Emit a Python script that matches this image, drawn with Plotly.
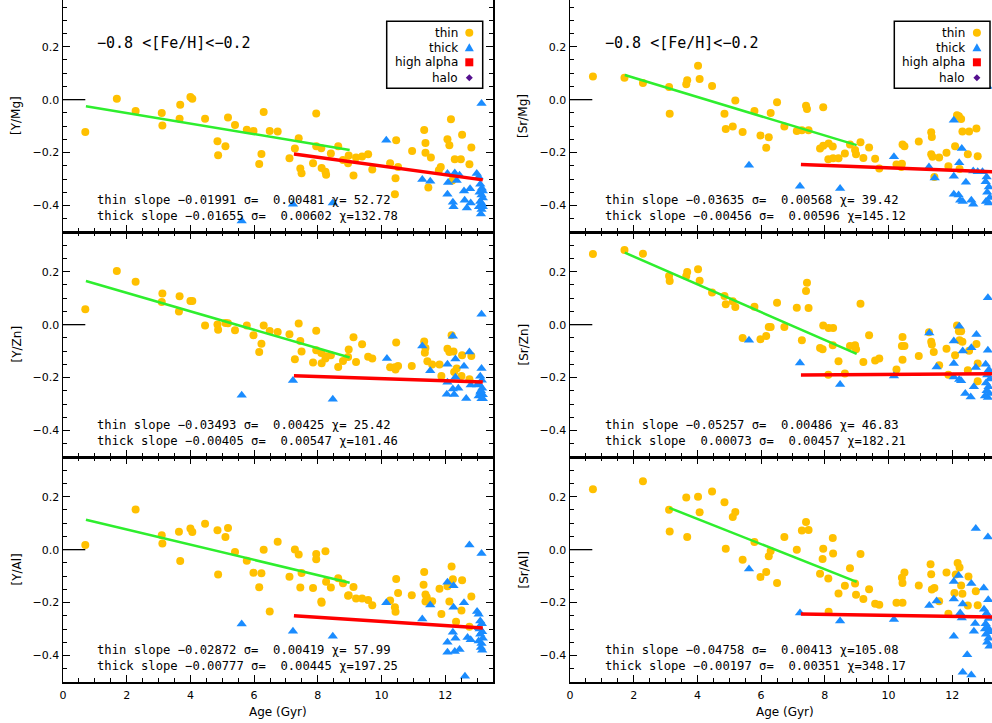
import plotly.graph_objects as go

# ---------------- data ----------------
YMg_thin_age = [0.70,1.69,2.28,3.10,3.12,3.66,3.68,4.00,4.06,4.46,4.85,4.87,5.10,5.18,5.40,5.77,5.98,6.16,6.23,6.30,6.49,6.74,7.11,7.28,7.40,7.45,7.49,7.85,7.95,7.95,8.11,8.12,8.24,8.26,8.41,8.64,8.79,8.95,8.97,9.12,9.20,9.39,9.58,9.71,10.27,10.46,10.44,10.42,10.52,10.96,11.34,11.38,11.38,11.47,11.55,11.80,11.86,12.07,12.13,12.18,12.22,12.30,12.49,12.53,12.76,12.82]
YMg_thin_val = [-0.122,0.003,-0.043,-0.050,-0.098,-0.072,-0.019,0.010,0.003,-0.072,-0.157,-0.210,-0.176,-0.067,-0.096,-0.114,-0.118,-0.243,-0.205,-0.047,-0.118,-0.120,-0.221,-0.185,-0.146,-0.260,-0.278,-0.240,-0.052,-0.176,-0.184,-0.258,-0.272,-0.284,-0.203,-0.176,-0.228,-0.240,-0.211,-0.287,-0.219,-0.215,-0.206,-0.264,-0.240,-0.153,-0.297,-0.357,-0.254,-0.194,-0.115,-0.164,-0.201,-0.332,-0.219,-0.267,-0.254,-0.150,-0.172,-0.074,-0.305,-0.225,-0.225,-0.133,-0.244,-0.181]
YMg_thick_age = [5.61,7.22,8.47,10.15,11.28,11.53,12.07,12.09,12.07,12.24,12.26,12.30,12.36,12.45,12.59,12.61,12.68,12.78,12.80,12.99,13.05,13.14,13.10,13.15,13.08,13.14,13.18,13.10,13.16,13.06,13.14,13.18,13.12,13.18]
YMg_thick_val = [-0.458,-0.395,-0.390,-0.153,-0.302,-0.308,-0.279,-0.313,-0.357,-0.388,-0.405,-0.277,-0.305,-0.286,-0.345,-0.380,-0.409,-0.337,-0.390,-0.279,-0.292,-0.015,-0.320,-0.335,-0.350,-0.360,-0.372,-0.385,-0.395,-0.405,-0.415,-0.405,-0.432,-0.345]

SrMg_thin_age = [0.72,1.71,2.29,3.11,3.13,3.65,3.68,4.02,4.07,4.46,4.85,4.89,5.11,5.19,5.42,5.79,5.98,6.16,6.24,6.30,6.50,6.73,7.12,7.28,7.41,7.44,7.49,7.85,7.95,7.95,8.12,8.11,8.25,8.26,8.43,8.63,8.79,8.95,8.98,9.12,9.21,9.39,9.58,9.71,10.25,10.44,10.42,10.40,10.50,10.95,11.34,11.36,11.34,11.38,11.44,11.59,11.82,11.88,12.09,12.15,12.21,12.28,12.23,12.32,12.49,12.53,12.76,12.80]
SrMg_thin_val = [0.087,0.083,0.063,0.048,-0.053,0.058,0.073,0.128,0.078,0.052,-0.053,-0.111,-0.101,-0.003,-0.122,-0.043,-0.135,-0.182,-0.142,-0.050,-0.010,-0.101,-0.118,-0.116,-0.023,-0.035,-0.116,-0.185,-0.029,-0.174,-0.166,-0.225,-0.177,-0.221,-0.221,-0.203,-0.169,-0.190,-0.206,-0.161,-0.220,-0.181,-0.223,-0.260,-0.245,-0.169,-0.242,-0.254,-0.176,-0.158,-0.123,-0.141,-0.206,-0.216,-0.292,-0.219,-0.201,-0.252,-0.176,-0.059,-0.063,-0.073,-0.262,-0.120,-0.206,-0.120,-0.109,-0.214]
SrMg_thick_age = [5.62,7.22,8.48,10.17,11.27,11.45,12.05,12.30,12.22,12.05,12.43,12.66,12.80,12.95,13.08,13.05,13.15,13.10,13.18,13.06,13.15,12.05,12.20,12.25,12.33,12.60,12.66,13.11]
SrMg_thick_val = [-0.248,-0.327,-0.336,-0.216,-0.254,-0.296,-0.078,-0.185,-0.238,-0.289,-0.312,-0.270,-0.272,-0.272,-0.292,-0.310,-0.330,-0.350,-0.370,-0.385,-0.390,-0.357,-0.360,-0.380,-0.385,-0.380,-0.395,0.050]

YZn_thin_age = [0.70,1.69,2.28,3.12,3.10,3.66,3.64,4.00,4.06,4.46,4.85,4.87,5.10,5.18,5.40,5.77,5.98,6.16,6.23,6.30,6.49,6.74,7.11,7.28,7.40,7.45,7.49,7.85,7.95,7.95,8.11,8.12,8.24,8.26,8.41,8.64,8.79,8.95,8.97,9.12,9.20,9.39,9.58,9.71,10.27,10.46,10.44,10.42,10.52,10.95,11.34,11.36,11.38,11.44,11.59,11.82,11.88,12.07,12.13,12.20,12.26,12.28,12.36,12.51,12.53,12.76,12.82]
YZn_thin_val = [0.058,0.203,0.162,0.118,0.086,0.107,0.050,0.089,0.089,-0.003,0.001,-0.019,0.006,0.005,-0.021,-0.003,-0.040,-0.103,-0.072,-0.003,-0.024,-0.028,-0.036,-0.131,0.004,-0.062,-0.101,-0.143,-0.023,-0.097,-0.107,-0.146,-0.128,-0.119,-0.116,-0.160,-0.137,-0.122,-0.094,-0.048,-0.141,-0.074,-0.121,-0.128,-0.161,-0.067,-0.169,-0.161,-0.156,-0.156,-0.064,-0.106,-0.088,-0.138,-0.151,-0.151,-0.194,-0.091,-0.103,-0.040,-0.101,-0.179,-0.166,-0.194,-0.116,-0.206,-0.118]
YZn_thick_age = [5.61,7.22,8.47,10.17,11.28,11.53,12.07,12.24,12.32,12.59,12.76,12.07,12.05,12.24,12.28,12.41,12.66,12.80,13.00,13.14,13.14,12.32,13.10,13.15,13.06,13.16,13.10,13.18,13.05,13.14,13.18,13.12]
YZn_thick_val = [-0.267,-0.211,-0.282,-0.128,-0.081,-0.174,-0.150,-0.044,-0.130,-0.157,-0.103,-0.218,-0.263,-0.243,-0.264,-0.240,-0.279,-0.228,-0.228,-0.166,0.039,-0.199,-0.195,-0.210,-0.225,-0.240,-0.255,-0.265,-0.270,-0.280,-0.280,-0.250]

SrZn_thin_age = [0.72,1.71,2.29,3.11,3.13,3.65,3.68,4.02,4.07,4.46,4.85,4.89,5.11,5.19,5.42,5.79,5.98,6.16,6.24,6.30,6.50,6.73,7.12,7.28,7.41,7.44,7.49,7.85,7.95,7.93,8.12,8.11,8.25,8.26,8.43,8.63,8.79,8.95,8.98,9.12,9.21,9.39,9.58,9.71,10.25,10.44,10.42,10.44,10.50,10.95,11.34,11.36,11.42,11.27,11.59,11.82,11.88,12.09,12.15,12.21,12.28,12.23,12.32,12.49,12.53,12.76,12.80,12.80]
SrZn_thin_val = [0.267,0.282,0.268,0.184,0.165,0.184,0.199,0.209,0.166,0.121,0.108,0.077,0.088,0.067,-0.050,0.068,-0.055,-0.043,-0.009,-0.009,0.083,-0.009,0.064,-0.059,0.127,0.158,0.063,-0.088,-0.003,-0.093,-0.013,-0.189,-0.078,-0.013,-0.138,-0.185,-0.081,-0.078,-0.093,0.079,-0.141,-0.040,-0.135,-0.128,-0.169,-0.047,-0.081,-0.133,-0.081,-0.118,-0.065,-0.075,-0.103,-0.029,-0.153,-0.091,-0.189,-0.116,-0.003,-0.025,-0.025,-0.059,-0.065,-0.172,-0.099,-0.073,-0.147,-0.214]
SrZn_thick_age = [5.62,7.22,8.48,10.17,11.28,11.51,12.05,12.22,12.33,12.60,12.76,13.12,13.12,12.05,12.74,12.05,12.22,12.28,12.68,12.41,12.58,13.05,13.15,13.10,13.18,13.06,13.14,13.08,13.17,13.12,13.03]
SrZn_thick_val = [-0.059,-0.145,-0.226,-0.194,-0.032,-0.160,-0.062,-0.006,-0.100,-0.087,-0.037,0.102,-0.097,-0.147,-0.162,-0.198,-0.207,-0.212,-0.235,-0.260,-0.273,-0.150,-0.170,-0.190,-0.205,-0.220,-0.235,-0.250,-0.260,-0.275,-0.270]

YAl_thin_age = [0.70,2.28,3.10,3.12,3.64,3.68,4.00,4.06,4.46,4.85,4.87,5.10,5.18,5.40,5.77,5.98,6.16,6.23,6.30,6.49,6.74,7.11,7.28,7.40,7.45,7.49,7.85,7.95,7.95,8.11,8.12,8.24,8.26,8.41,8.64,8.79,8.95,8.97,9.12,9.20,9.39,9.58,9.71,10.27,10.46,10.44,10.42,10.52,10.95,11.34,11.32,11.38,11.38,11.42,11.59,11.82,11.88,12.07,12.13,12.20,12.24,12.34,12.51,12.53,12.76,12.82]
YAl_thin_val = [0.018,0.152,0.054,0.023,0.068,-0.043,0.080,0.067,0.098,0.073,-0.094,0.048,0.082,-0.009,-0.042,-0.087,-0.142,-0.089,0.000,-0.234,0.030,-0.102,0.001,-0.018,-0.143,-0.088,-0.145,-0.016,-0.036,-0.196,-0.201,-0.006,-0.121,-0.143,-0.108,-0.127,-0.174,-0.172,-0.141,-0.185,-0.185,-0.190,-0.210,-0.192,-0.111,-0.235,-0.218,-0.164,-0.172,-0.084,-0.133,-0.169,-0.196,-0.180,-0.195,-0.148,-0.243,-0.138,-0.196,-0.064,-0.112,-0.272,-0.230,-0.116,-0.291,-0.177]
YAl_thick_age = [5.61,7.22,8.47,10.15,11.28,11.53,12.07,12.26,12.59,12.26,12.07,12.07,12.24,12.32,12.30,12.45,12.70,12.80,12.76,13.14,13.00,13.05,12.62,13.10,13.15,13.06,13.16,13.10,13.18,13.05,13.14,13.12,13.16,13.08]
YAl_thick_val = [-0.281,-0.308,-0.327,-0.201,-0.262,-0.209,-0.123,-0.136,-0.201,-0.218,-0.350,-0.388,-0.312,-0.335,-0.385,-0.377,-0.332,-0.340,0.018,-0.015,-0.234,-0.244,-0.478,-0.270,-0.280,-0.295,-0.310,-0.320,-0.335,-0.345,-0.355,-0.370,-0.380,-0.300]

SrAl_thin_age = [0.72,2.29,3.11,3.13,3.65,3.68,4.02,4.07,4.46,4.85,4.89,5.11,5.19,5.42,5.79,5.98,6.16,6.24,6.30,6.50,6.73,7.12,7.28,7.41,7.49,7.85,7.95,7.93,8.12,8.11,8.25,8.26,8.43,8.63,8.79,8.95,8.98,9.12,9.21,9.39,9.58,9.71,10.25,10.44,10.42,10.44,10.50,10.95,11.32,11.34,11.36,11.44,11.59,11.82,11.88,12.07,12.11,12.17,12.23,12.28,12.32,12.49,12.51,12.74,12.80]
SrAl_thin_val = [0.228,0.258,0.151,0.069,0.197,0.048,0.200,0.141,0.220,0.179,0.003,0.123,0.142,-0.038,0.029,-0.103,-0.084,-0.025,-0.005,-0.126,0.048,0.000,0.072,0.104,0.074,-0.091,0.003,-0.035,-0.235,-0.109,0.044,-0.015,-0.166,-0.136,-0.070,-0.128,-0.170,-0.016,-0.186,-0.150,-0.204,-0.208,-0.201,-0.201,-0.106,-0.126,-0.086,-0.135,-0.055,-0.093,-0.151,-0.145,-0.195,-0.086,-0.242,-0.164,-0.094,-0.050,-0.067,-0.135,-0.167,-0.211,-0.101,-0.157,-0.210]
SrAl_thick_age = [5.62,7.22,8.48,10.17,11.28,11.51,12.05,12.20,12.60,12.99,13.13,12.05,12.33,12.25,12.72,12.68,12.05,12.47,12.33,12.60,12.74,13.12,13.00,12.30,13.08,13.15,13.05,13.12,13.18,13.06,13.14,13.10,13.17,13.03]
SrAl_thick_val = [-0.073,-0.239,-0.270,-0.264,-0.211,-0.194,-0.120,-0.098,-0.128,-0.145,-0.189,-0.186,-0.205,-0.239,-0.279,-0.308,-0.327,-0.397,-0.463,-0.474,0.080,0.048,-0.225,-0.258,-0.240,-0.260,-0.280,-0.295,-0.310,-0.320,-0.335,-0.350,-0.365,-0.300]

# panel order: Y/Mg, Sr/Mg, Y/Zn, Sr/Zn, Y/Al, Sr/Al
ratio_labels = ["[Y/Mg]", "[Sr/Mg]", "[Y/Zn]", "[Sr/Zn]", "[Y/Al]", "[Sr/Al]"]
thin_slope = [-0.01991, -0.03635, -0.03493, -0.05257, -0.02872, -0.04758]
thin_sigma = [0.00481, 0.00568, 0.00425, 0.00486, 0.00419, 0.00413]
thin_chi = [52.72, 39.42, 25.42, 46.83, 57.99, 105.08]
thick_slope = [-0.01655, -0.00456, -0.00405, 0.00073, -0.00777, -0.00197]
thick_sigma = [0.00602, 0.00596, 0.00547, 0.00457, 0.00445, 0.00351]
thick_chi = [132.78, 145.12, 101.46, 182.21, 197.25, 348.17]
thin_fit_start = [0.72, 1.72, 0.72, 1.72, 0.72, 3.12]
thin_fit_end = [9.0, 9.0, 9.0, 9.0, 9.0, 9.0]
thin_fit_y0 = [-0.025, 0.093, 0.165, 0.272, 0.113, 0.158]
thick_fit_start = [7.25, 7.25, 7.25, 7.25, 7.25, 7.25]
thick_fit_end = [13.18, 13.25, 13.18, 13.25, 13.18, 13.25]
thick_fit_y0 = [-0.205, -0.245, -0.193, -0.190, -0.250, -0.243]
zero_mark_age = [0.0, 0.7]
zero_mark_val = [0.0, 0.0]
legend_labels = ["thin", "thick", "high alpha", "halo"]
title_text = "\u22120.8 <[Fe/H]<\u22120.2"
xlabel = "Age (Gyr)"

thin_sets = [(YMg_thin_age, YMg_thin_val), (SrMg_thin_age, SrMg_thin_val), (YZn_thin_age, YZn_thin_val),
             (SrZn_thin_age, SrZn_thin_val), (YAl_thin_age, YAl_thin_val), (SrAl_thin_age, SrAl_thin_val)]
thick_sets = [(YMg_thick_age, YMg_thick_val), (SrMg_thick_age, SrMg_thick_val), (YZn_thick_age, YZn_thick_val),
              (SrZn_thick_age, SrZn_thick_val), (YAl_thick_age, YAl_thick_val), (SrAl_thick_age, SrAl_thick_val)]
for a, b in thin_sets + thick_sets:
    assert len(a) == len(b), (len(a), len(b))

# ---------------- styling / layout ----------------
W, H = 992, 723
ML, MR, MT, MB = 63, 0, 0, 41
PW, PH = W - ML - MR, H - MT - MB

def pxx(x):
    return (x - ML) / PW

def pxy(y):
    return (H - MB - y) / PH

C_THIN = "#FFC000"
C_THICK = "#1A8CFF"
C_GREEN = "#2EEE2E"
C_RED = "#FF0000"
C_HALO = "#55108F"
FONT = "DejaVu Sans"
MONO = "DejaVu Sans Mono"

col_px = [(63, 493), (570, 992)]
row_px = [(0, 232), (232, 457), (457, 682)]
PXU_X = 430 / 13.5
PXU_Y = 225 / 0.85

fig = go.Figure()
annotations = []
shapes = []

def fmt(kind, s, sg, ch):
    t = f"{kind} slope {s:8.5f} \u03c3={sg:9.5f} \u03c7={ch:6.2f}"
    return t.replace("-", "\u2212").replace(" ", "\u00a0")

for i in range(6):
    r, c = divmod(i, 2)
    ax = "" if i == 0 else str(i + 1)
    xa, ya = "x" + ax, "y" + ax
    x0p, x1p = col_px[c]
    y0p, y1p = row_px[r]
    xrange = [0, (x1p - x0p) / PXU_X]
    yrange = [-0.5, -0.5 + (y1p - y0p) / PXU_Y]

    tx, tv = thin_sets[i]
    kx, kv = thick_sets[i]
    fig.add_trace(go.Scatter(x=tx, y=tv, mode="markers", xaxis=xa, yaxis=ya, showlegend=False,
                             marker=dict(symbol="circle", size=8, color=C_THIN, line=dict(width=0))))
    fig.add_trace(go.Scatter(x=kx, y=kv, mode="markers", xaxis=xa, yaxis=ya, showlegend=False,
                             marker=dict(symbol="triangle-up", size=9, color=C_THICK, line=dict(width=0))))
    fig.add_trace(go.Scatter(x=zero_mark_age, y=zero_mark_val, mode="lines", xaxis=xa, yaxis=ya,
                             showlegend=False, line=dict(color="black", width=1.3)))
    gx = [thin_fit_start[i], thin_fit_end[i]]
    gy = [thin_fit_y0[i], thin_fit_y0[i] + thin_slope[i] * (thin_fit_end[i] - thin_fit_start[i])]
    fig.add_trace(go.Scatter(x=gx, y=gy, mode="lines", xaxis=xa, yaxis=ya, showlegend=False,
                             line=dict(color=C_GREEN, width=2.5)))
    rx = [thick_fit_start[i], thick_fit_end[i]]
    ry = [thick_fit_y0[i], thick_fit_y0[i] + thick_slope[i] * (thick_fit_end[i] - thick_fit_start[i])]
    fig.add_trace(go.Scatter(x=rx, y=ry, mode="lines", xaxis=xa, yaxis=ya, showlegend=False,
                             line=dict(color=C_RED, width=3.5)))

    minor_common = dict(ticks="inside", ticklen=4, tickwidth=1, tickcolor="black", showgrid=False)
    xaxis = dict(domain=[pxx(x0p), pxx(x1p)], range=xrange, anchor=ya,
                 showline=True, linecolor="black", linewidth=1.5,
                 mirror=("ticks" if r > 0 else False),
                 ticks="inside", ticklen=7, tickwidth=1, tickcolor="black",
                 tick0=0, dtick=2, showgrid=False, zeroline=False,
                 showticklabels=(r == 2), ticklabelstandoff=2,
                 tickfont=dict(family=FONT, size=11, color="black"),
                 minor=dict(dtick=0.5, **minor_common))
    yaxis = dict(domain=[pxy(y1p), pxy(y0p)], range=yrange, anchor=xa,
                 showline=True, linecolor="black", linewidth=1.5,
                 mirror=("ticks" if c == 0 else False),
                 ticks="inside", ticklen=7, tickwidth=1, tickcolor="black",
                 tick0=0, dtick=0.2, tickformat=".1f", showgrid=False, zeroline=False,
                 tickfont=dict(family=FONT, size=11, color="black"),
                 minor=dict(dtick=0.05, **minor_common))
    fig.update_layout(**{"xaxis" + ax: xaxis, "yaxis" + ax: yaxis})

    # y-axis label
    lab_x = 16 if c == 0 else 523
    annotations.append(dict(x=pxx(lab_x), y=pxy((y0p + y1p) / 2), xref="paper", yref="paper",
                            text=ratio_labels[i], textangle=-90, showarrow=False,
                            xanchor="center", yanchor="middle",
                            font=dict(family=FONT, size=12, color="black")))
    # statistics text (two lines in one block)
    sx = 95 if c == 0 else 602.5
    stat_txt = (fmt("thin", thin_slope[i], thin_sigma[i], thin_chi[i]) + "<br>" +
                fmt("thick", thick_slope[i], thick_sigma[i], thick_chi[i]))
    annotations.append(dict(x=pxx(sx), y=pxy(y1p - 23.7), xref="paper", yref="paper", text=stat_txt,
                            showarrow=False, xanchor="left", yanchor="middle", align="left",
                            font=dict(family=MONO, size=12.2, color="black")))
    # top-row extras: title + legend
    if r == 0:
        tx0 = 95 if c == 0 else 603
        annotations.append(dict(x=pxx(tx0), y=pxy(43), xref="paper", yref="paper", text=title_text,
                                showarrow=False, xanchor="left", yanchor="middle",
                                font=dict(family=MONO, size=15, color="black")))
        bx0, bx1 = (386.7, 482.7) if c == 0 else (894.3, 990)
        shapes.append(dict(type="rect", xref="paper", yref="paper", x0=pxx(bx0), x1=pxx(bx1),
                           y0=pxy(88.3), y1=pxy(21.3), line=dict(color="black", width=1.5),
                           fillcolor="white", layer="above"))
        text_right = bx0 + 73
        sym_x = bx0 + 82.6
        rows_y = [32.7, 47.7, 62.3, 77.7]
        for k, lab in enumerate(legend_labels):
            annotations.append(dict(x=pxx(text_right), y=pxy(rows_y[k]), xref="paper", yref="paper",
                                    text=lab, showarrow=False, xanchor="right", yanchor="middle",
                                    font=dict(family=FONT, size=12, color="black")))
        shapes.append(dict(type="circle", xref="paper", yref="paper", xsizemode="pixel", ysizemode="pixel",
                           xanchor=pxx(sym_x), yanchor=pxy(rows_y[0]), x0=-4, x1=4, y0=-4, y1=4,
                           fillcolor=C_THIN, line=dict(width=0), layer="above"))
        shapes.append(dict(type="path", xref="paper", yref="paper", xsizemode="pixel", ysizemode="pixel",
                           xanchor=pxx(sym_x), yanchor=pxy(rows_y[1]),
                           path="M -4.5,-3.5 L 4.5,-3.5 L 0,4.5 Z",
                           fillcolor=C_THICK, line=dict(width=0), layer="above"))
        shapes.append(dict(type="rect", xref="paper", yref="paper", xsizemode="pixel", ysizemode="pixel",
                           xanchor=pxx(sym_x), yanchor=pxy(rows_y[2]), x0=-4, x1=4, y0=-4, y1=4,
                           fillcolor=C_RED, line=dict(width=0), layer="above"))
        shapes.append(dict(type="path", xref="paper", yref="paper", xsizemode="pixel", ysizemode="pixel",
                           xanchor=pxx(sym_x), yanchor=pxy(rows_y[3]),
                           path="M 0,3.5 L 3.5,0 L 0,-3.5 L -3.5,0 Z",
                           fillcolor=C_HALO, line=dict(width=0), layer="above"))
    if r == 2:
        annotations.append(dict(x=pxx(x0p + 215), y=pxy(711.5), xref="paper", yref="paper",
                                text=xlabel, showarrow=False, xanchor="center", yanchor="middle",
                                font=dict(family=FONT, size=12, color="black")))

fig.update_layout(width=W, height=H, margin=dict(l=ML, r=MR, t=MT, b=MB, pad=0),
                  paper_bgcolor="white", plot_bgcolor="white", showlegend=False,
                  annotations=annotations, shapes=shapes, hovermode=False,
                  font=dict(family=FONT, color="black"))

fig.write_html("out.html", config={"displayModeBar": False, "staticPlot": True},
               post_script="document.body.style.margin='0px';document.body.style.overflow='hidden';")
